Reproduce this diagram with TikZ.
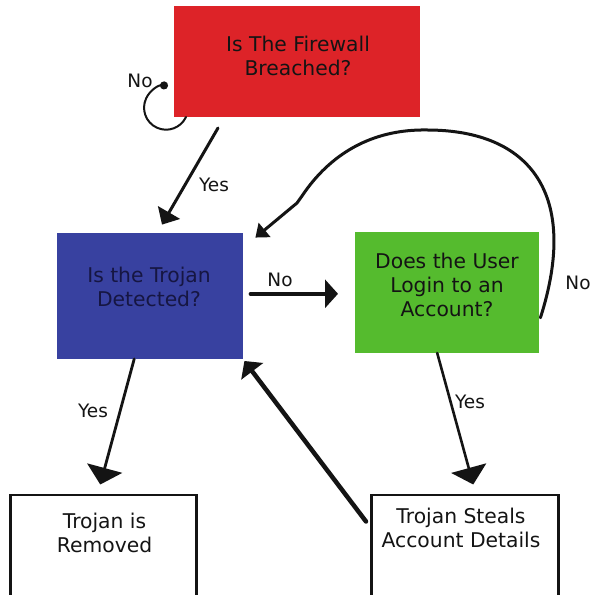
\documentclass[tikz,border=0pt]{standalone}
\usepackage{fontspec}
\setmainfont{DejaVu Sans}
\usetikzlibrary{arrows.meta}
\definecolor{boxred}{RGB}{221,35,40}
\definecolor{boxblue}{RGB}{56,65,160}
\definecolor{boxgreen}{RGB}{85,187,46}
\definecolor{ink}{RGB}{20,20,20}
\definecolor{navyink}{RGB}{22,22,66}

\begin{document}
\begin{tikzpicture}[x=1pt,y=1pt,
  box/.style={rectangle, inner sep=0pt, anchor=south west},
  outlined/.style={box, draw=ink, line width=2.5pt, fill=white},
  lbl/.style={font=\fontsize{20.3}{24}\selectfont, text=ink, align=center, inner sep=0pt},
  tag/.style={font=\fontsize{18.5}{22}\selectfont, text=ink, inner sep=0pt},
  link/.style={draw=ink, line cap=round, line join=round},
]
\useasboundingbox (0,0) rectangle (596,594);
\clip (0,0) rectangle (596,594);
\fill[white] (0,0) rectangle (596,594);

% boxes
\node[box, fill=boxred, minimum width=246, minimum height=111] (breach) at (174,477) {};
\node[box, fill=boxblue, minimum width=186, minimum height=126] (detect) at (57,235) {};
\node[box, fill=boxgreen, minimum width=184, minimum height=121] (login) at (355,241) {};
\node[outlined, minimum width=186, minimum height=118] (removed) at (9,-20) {};
\node[outlined, minimum width=187, minimum height=118] (steals) at (370,-20) {};

% box texts
\node[lbl] (breachtxt) at (298,538) {Is The Firewall\\Breached?};
\node[lbl, text=navyink] (detecttxt) at (149,307) {Is the Trojan\\Detected?};
\node[lbl] (logintxt) at (447,309) {Does the User\\Login to an\\Account?};
\node[lbl] (removedtxt) at (104.5,61) {Trojan is\\Removed};
\node[lbl] (stealstxt) at (461,66.5) {Trojan Steals\\Account Details};

% waiting loop on the firewall question
\draw[link, line width=2pt, -{Circle[length=8pt]}]
  ([xshift=12pt]breach.south west) arc[start angle=-25, end angle=-275, radius=22];
\node[tag] (tagwait) at (140,513) {No};

% firewall breached -> trojan check
\draw[link, line width=3pt, -{Triangle[length=14pt,width=25pt]}]
  ([shift={(44,-11)}]breach.south west) -- ([shift={(105,8)}]detect.north west);
\node[tag] (tagbreach) at (214,409) {Yes};

% trojan not detected -> login question
\draw[link, line width=3.5pt, -{Triangle[length=13pt,width=28pt]}]
  ([xshift=7pt,yshift=2pt]detect.east) -- ([xshift=-17pt,yshift=-1.5pt]login.west);
\node[tag] (tagundetected) at (280,314) {No};

% no login -> back to trojan check
\coordinate (looptop) at (427,464);
\coordinate (loopkink) at (302,398);
\draw[link, line width=3pt, -{Triangle[length=12pt,width=18pt]}]
  ([xshift=1pt,yshift=-25.5pt]login.east) .. controls (580,400) and (530,464) .. (looptop)
  .. controls (372,465) and (330,440) .. (loopkink)
  -- (297,391)
  -- ([xshift=12pt,yshift=-5pt]detect.north east);
\node[tag] (tagnologin) at (578,311) {No};

% trojan detected -> removed
\draw[link, line width=2.8pt, -{Triangle[length=17pt,width=36pt]}]
  ([xshift=-16pt]detect.south) -- ([xshift=-3pt,yshift=9pt]removed.north);
\node[tag] (tagdetected) at (93,183) {Yes};

% user logs in -> details stolen
\draw[link, line width=2.6pt, -{Triangle[length=17pt,width=36pt]}]
  ([xshift=-10pt]login.south) -- ([xshift=8.5pt,yshift=9pt]steals.north);
\node[tag] (taglogin) at (470,192) {Yes};

% details stolen -> back to trojan check
\draw[link, line width=4.5pt, -{Triangle[length=13pt,width=27pt]}]
  ([xshift=-4pt,yshift=-28pt]steals.north west) -- ([xshift=1pt,yshift=-2pt]detect.south east);
\end{tikzpicture}
\end{document}
